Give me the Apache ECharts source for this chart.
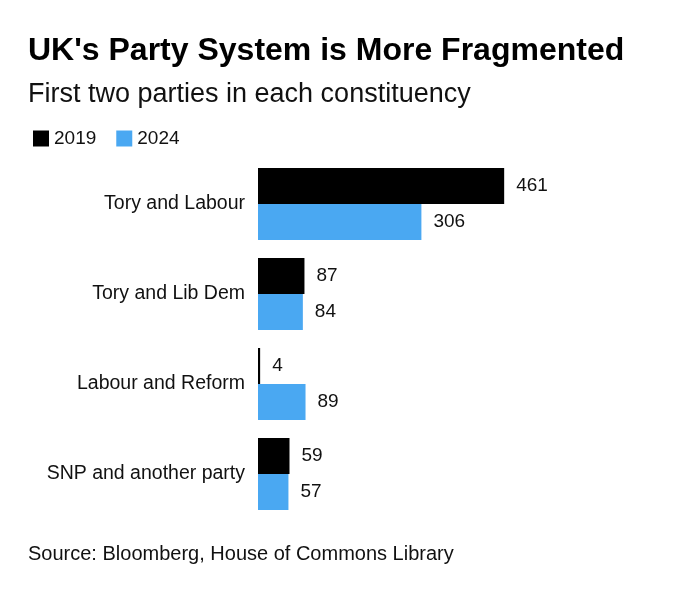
<!DOCTYPE html>
<html><head><meta charset="utf-8">
<script src="https://cdn.jsdelivr.net/npm/echarts@6/dist/echarts.min.js"></script>
<style>html,body{margin:0;padding:0;background:#fff}#c{width:680px;height:604px}</style>
</head><body><div id="c"></div>
<script>
const categories = ["Tory and Labour","Tory and Lib Dem","Labour and Reform","SNP and another party"];
const values2019 = [461,87,4,59];
const values2024 = [306,84,89,57];
const F = "Helvetica, Arial, 'Liberation Sans', sans-serif";
const chart = echarts.init(document.getElementById('c'));
const lbl = {show:true,position:'right',distance:12,color:'#111',fontSize:19,fontFamily:F};
chart.setOption({
  animation:false,
  title:[
    {text:"UK's Party System is More Fragmented",left:23,top:30,textStyle:{fontSize:32,fontWeight:'bold',color:'#000',fontFamily:F}},
    {text:"First two parties in each constituency",left:23,top:76,textStyle:{fontSize:27,fontWeight:'normal',color:'#111',fontFamily:F}},
    {text:"Source: Bloomberg, House of Commons Library",left:23,top:539,textStyle:{fontSize:20,fontWeight:'normal',color:'#111',fontFamily:F}}
  ],
  legend:{left:28,top:124,itemWidth:16,itemHeight:16,itemGap:20,icon:'rect',
    textStyle:{fontSize:19,color:'#111',fontFamily:F},data:['2019','2024']},
  grid:{left:258,top:159,width:267,height:360},
  xAxis:{type:'value',min:0,max:500,show:false},
  yAxis:{type:'category',data:categories,inverse:true,axisLine:{show:false},axisTick:{show:false},
    axisLabel:{fontSize:19.5,color:'#111',margin:13,fontFamily:F}},
  series:[
    {name:'2019',type:'bar',data:values2019,barWidth:36,barGap:'0%',itemStyle:{color:'#000'},label:lbl},
    {name:'2024',type:'bar',data:values2024,barWidth:36,barGap:'0%',itemStyle:{color:'#4aa8f2'},label:lbl}
  ]
});
</script></body></html>
